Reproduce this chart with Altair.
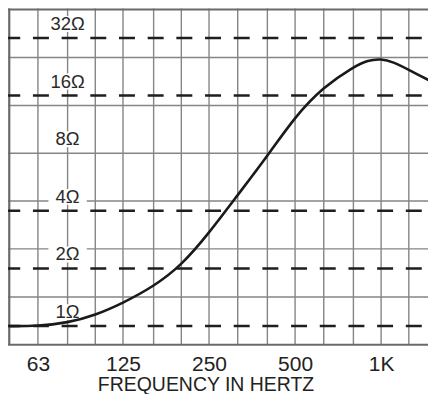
import altair as alt
import pandas as pd

# Impedance curve (Hz, ohms)
freq_hz = [50, 63, 80, 100, 125, 160, 200, 250, 315, 400, 500, 630, 800, 900, 1000, 1100, 1250, 1556]
impedance_ohm = [1.00, 1.00, 1.04, 1.14, 1.32, 1.61, 2.07, 3.06, 4.84, 7.72, 12.45, 17.8, 22.6, 24.5, 24.9, 24.0, 21.8, 18.4]

# Chart paper grid (third-octave verticals, 5 dB horizontals)
grid_freqs = [63, 80, 100, 125, 160, 200, 250, 315, 400, 500, 630, 800, 1000, 1250]
grid_ohms = [1.42, 2.53, 4.5, 8.0, 14.2, 25.3]
border_freqs = [50]
border_ohms = [0.8, 45.0]
dashed_ohms = [1, 2, 4, 16, 32]
label_ohms = [1, 2, 4, 8, 16, 32]
label_text = ["1Ω", "2Ω", "4Ω", "8Ω", "16Ω", "32Ω"]
label_freq = 80
tick_freqs = [63, 125, 250, 500, 1000]
tick_labels = ["63", "125", "250", "500", "1K"]

X_DOMAIN = [49.5, 1459]
Y_DOMAIN = [0.8, 45.6]
FONT = "Liberation Sans"

curve_df = pd.DataFrame({"f": freq_hz, "z": impedance_ohm})
vgrid_df = pd.DataFrame({"f": grid_freqs})
hgrid_df = pd.DataFrame({"z": grid_ohms})
vborder_df = pd.DataFrame({"f": border_freqs})
hborder_df = pd.DataFrame({"z": border_ohms})
dash_df = pd.DataFrame({"z": dashed_ohms})
lab_df = pd.DataFrame({"f": [label_freq] * len(label_ohms), "z": label_ohms, "t": label_text})

label_expr = " : ".join(
    f"datum.value == {v} ? '{t}'" for v, t in zip(tick_freqs, tick_labels)
) + " : ''"

x_axis = alt.Axis(
    values=tick_freqs,
    labelExpr=label_expr,
    labelFont=FONT,
    labelFontSize=21,
    labelColor="#222222",
    labelPadding=9,
    labelFlush=False,
    labelOverlap=False,
    ticks=False,
    tickSize=0,
    domain=False,
    grid=False,
    title="FREQUENCY IN HERTZ",
    titleFont=FONT,
    titleFontSize=19.5,
    titleFontWeight="normal",
    titleColor="#222222",
    titleBaseline="top",
    titleAlign="center",
    titleX=198,
    titleY=31,
)

x_scale = alt.Scale(type="log", domain=X_DOMAIN, nice=False)
y_scale = alt.Scale(type="log", domain=Y_DOMAIN, nice=False)


def xenc(field="f"):
    return alt.X(f"{field}:Q", scale=x_scale, axis=x_axis)


def yenc(field="z"):
    return alt.Y(f"{field}:Q", scale=y_scale, axis=None)


vgrid = alt.Chart(vgrid_df).mark_rule(color="#858585", strokeWidth=1.4).encode(x=xenc())
hgrid = alt.Chart(hgrid_df).mark_rule(color="#858585", strokeWidth=1.4).encode(y=yenc())
vborder = alt.Chart(vborder_df).mark_rule(color="#6a6a6a", strokeWidth=2.2).encode(x=xenc())
hborder = alt.Chart(hborder_df).mark_rule(color="#6a6a6a", strokeWidth=2.0).encode(y=yenc())
dashes = alt.Chart(dash_df).mark_rule(
    color="#1e1e1e", strokeWidth=2.5, strokeDash=[16, 12.75], strokeDashOffset=22.5
).encode(y=yenc())

boxes = alt.Chart(lab_df).mark_point(
    shape="M-1.2,-0.5H1.2V0.5H-1.2Z",
    size=1024,
    filled=True,
    color="white",
    opacity=1,
    strokeWidth=0,
    yOffset=-14,
).encode(x=xenc(), y=yenc())

labels = alt.Chart(lab_df).mark_text(
    font=FONT, fontSize=18.5, color="#2a2a2a", dy=-14, align="center", baseline="middle"
).encode(x=xenc(), y=yenc(), text="t:N")

curve = alt.Chart(curve_df).mark_line(
    color="#1a1a1a", strokeWidth=2.6, interpolate="basis", clip=True
).encode(x=xenc(), y=yenc())

chart = (
    alt.layer(vgrid, hgrid, vborder, hborder, dashes, boxes, labels, curve)
    .properties(
        width=421,
        height=337,
        padding={"left": 0, "top": 0, "right": 0, "bottom": 49},
        autosize=alt.AutoSizeParams(type="none"),
        background="white",
    )
    .configure_view(stroke=None)
)

chart.save("out.html", embed_options={"renderer": "svg", "actions": False})
